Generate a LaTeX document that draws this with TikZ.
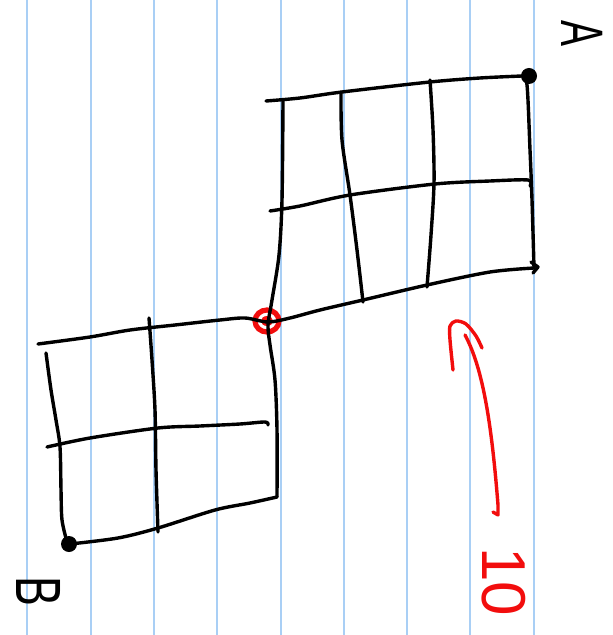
\documentclass[tikz,border=0pt]{standalone}
\usepackage{graphicx}
\usepackage{fontspec}
\setmainfont{Liberation Sans}
\definecolor{paperblue}{HTML}{A9CFF5}
\definecolor{inkred}{HTML}{F20D0D}

\begin{document}
\begin{tikzpicture}[x=0.5pt,y=-0.5pt,
    ink/.style={line width=1.7pt,line cap=round,line join=round},
    redink/.style={ink,inkred},
    handlabel/.style={inner sep=0pt,rotate=-90}]

    \useasboundingbox[fill=white] (0,0) rectangle (613,635);

    % ruled paper
    \foreach \x in {27,91,154,217,281,344,407,470,534}
    \draw[paperblue,line width=1pt] (\x,0) -- (\x,635);

    % corner points
    \coordinate (topright) at (529,76);
    \coordinate (botleft) at (69,544);
    \coordinate (centre) at (267,321);

    \draw[inkred,line width=2.6pt] (centre) ellipse (12 and 11);
    \fill[inkred] (centre) ellipse (6 and 5);

    % upper grid
    \draw[ink] plot[smooth] coordinates {(266,101) (300,98) (342,92) (430,82) (480,78) (522,76)};
    \draw[ink] plot[smooth] coordinates {(270,211) (300,206) (350,195) (435,184) (490,181) (528,180) (530,186)};
    \draw[ink] plot[smooth] coordinates {(522,76) (527,85) (530,150) (532,200) (534,268)};
    \draw[ink] plot[smooth] coordinates {(341,92) (342,140) (350,195) (357,250) (363,302)};
    \draw[ink] plot[smooth] coordinates {(430,80) (433,130) (434,183) (431,235) (427,287)};
    \draw[ink] (531,262) -- (538,267) -- (533,273);

    % shared lines through the centre
    \draw[ink] plot[smooth] coordinates {(283,101) (282,200) (279,255) (272,300) (268,325) (270,345) (275,380) (277,430) (277,497)};
    \draw[ink] plot[smooth] coordinates {(38,344) (90,337) (130,330) (175,325) (220,320) (245,318) (268,322) (290,318) (320,310) (363,300) (427,285) (490,272) (534,268)};

    % lower grid
    \draw[ink] plot[smooth] coordinates {(46,353) (51,390) (56,420) (60,447) (61,490) (62,520) (67,542)};
    \draw[ink] plot[smooth] coordinates {(47,447) (90,438) (158,428) (200,426) (240,424) (265,422) (268,425)};
    \draw[ink] plot[smooth] coordinates {(70,544) (118,538) (158,528) (215,510) (250,503) (277,497)};
    \draw[ink] plot[smooth] coordinates {(149,318) (152,360) (155,410) (156,470) (158,532)};

    \foreach \p in {topright,botleft}
    \fill (\p) circle (8);

    % red arrow
    \coordinate (tail) at (498,515);
    \coordinate (tip) at (465,335);
    \draw[redink] (493,512) -- (tail) -- (498,505) .. controls (492,430) and (484,370) .. (tip);
    \draw[redink] plot[smooth] coordinates {(453,370) (450,340) (450,326) (456,321) (466,324) (476,336) (482,348)};

    % labels
    \node[handlabel,font=\fontsize{30}{30}\selectfont] (labelA) at (582,34) {\scalebox{0.65}[1]{A}};
    \node[handlabel,font=\fontsize{32}{32}\selectfont] (labelB) at (39,591) {\scalebox{0.7}[1]{B}};
    \node[handlabel,inkred,font=\fontsize{31}{31}\selectfont] (labelten) at (504,582) {10};

\end{tikzpicture}
\end{document}
